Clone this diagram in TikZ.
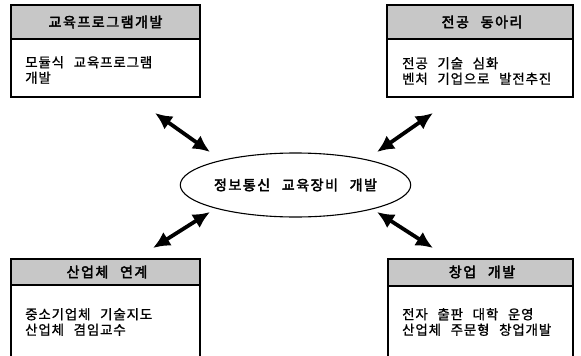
\documentclass[tikz,border=0pt]{standalone}
\usepackage{fontspec}
\usetikzlibrary{arrows.meta,shapes.geometric}
\newfontfamily\krbody[LetterSpace=6,WordSpace=2.5,FakeBold=1]{Noto Sans CJK KR}
\newfontfamily\krhead[LetterSpace=11,WordSpace=2.5,FakeBold=3]{Noto Sans CJK KR}
\begin{document}
\begin{tikzpicture}[x=1pt,y=-1pt,
  boxline/.style={line width=1.3pt,draw=black},
  headfill/.style={fill=black!22,draw=none},
  headtext/.style={font=\krhead\fontsize{14}{16}\selectfont,inner sep=0pt},
  bodytext/.style={font=\krbody\fontsize{13.5}{15.5}\selectfont,align=left,anchor=west,inner sep=0pt},
  dblarrow/.style={line width=3.8pt,{Latex[length=17pt,width=16pt]}-{Latex[length=17pt,width=16pt]}},
  hub/.style={ellipse,draw,line width=1.1pt,minimum width=193pt,minimum height=64pt,inner sep=0pt,font=\krhead\fontsize{14}{16}\selectfont}]
\useasboundingbox (0,0) rectangle (581,356);
\clip (0,0) rectangle (581,356);

% top-left box
\fill[headfill] (11,5) rectangle (200,39);
\draw[boxline] (11,5) rectangle (200,97);
\draw[boxline] (11,39) -- (200,39);
\node[headtext] (h1) at (105.5,22) {교육프로그램개발};
\node[bodytext] (b1) at (25,70) {모듈식 교육프로그램\\개발};

% top-right box
\fill[headfill] (387,5) rectangle (573,39);
\draw[boxline] (387,5) rectangle (573,97);
\draw[boxline] (387,39) -- (573,39);
\node[headtext] (h2) at (482,22) {전공 동아리};
\node[bodytext] (b2) at (402,71) {전공 기술 심화\\벤처 기업으로 발전추진};

% bottom-left box
\fill[headfill] (11,259) rectangle (200,285);
\draw[boxline] (11,362) -- (11,259) -- (200,259) -- (200,362);
\draw[boxline] (11,285) -- (200,285);
\node[headtext] (h3) at (107,272) {산업체 연계};
\node[bodytext] (b3) at (25,322) {중소기업체 기술지도\\산업체 겸임교수};

% bottom-right box
\fill[headfill] (388,259) rectangle (573,286);
\draw[boxline] (388,362) -- (388,259) -- (573,259) -- (573,362);
\draw[boxline] (388,286) -- (573,286);
\node[headtext] (h4) at (482,272) {창업 개발};
\node[bodytext] (b4) at (402,322) {전자 출판 대학 운영\\산업체 주문형 창업개발};

% hub
\node[hub] (c) at (295.5,185) {정보통신 교육장비 개발};

% arrows
\coordinate (a1s) at (155,113); \coordinate (a1e) at (210,152);
\coordinate (a2s) at (433,113); \coordinate (a2e) at (377,152);
\coordinate (a3s) at (210,212); \coordinate (a3e) at (153,248);
\coordinate (a4s) at (377,212); \coordinate (a4e) at (433,248);
\draw[dblarrow] (a1s) -- (a1e);
\draw[dblarrow] (a2s) -- (a2e);
\draw[dblarrow] (a3s) -- (a3e);
\draw[dblarrow] (a4s) -- (a4e);
\end{tikzpicture}
\end{document}
